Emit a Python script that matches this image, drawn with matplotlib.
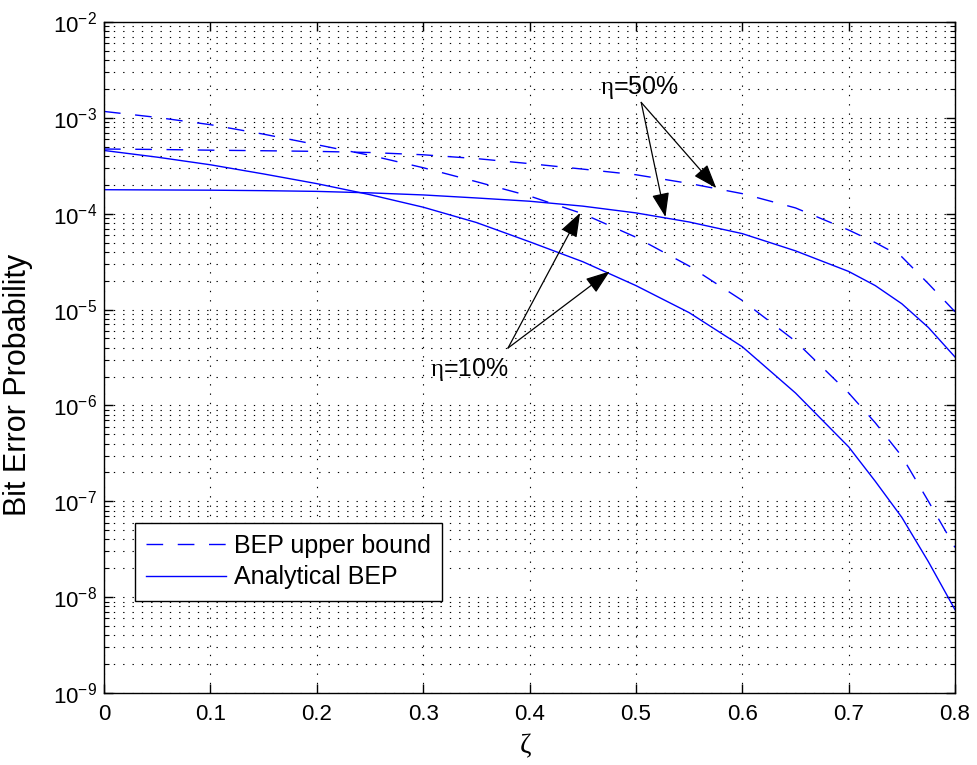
import numpy as np
import matplotlib
matplotlib.use('Agg')
import matplotlib.pyplot as plt
from matplotlib.ticker import LogLocator, MultipleLocator, NullFormatter, FuncFormatter

plt.rcParams['font.family'] = ['Liberation Sans', 'DejaVu Sans']
plt.rcParams['mathtext.fontset'] = 'custom'
plt.rcParams['mathtext.rm'] = 'Liberation Serif'

# values
zeta = [0, 0.05, 0.1, 0.15, 0.2, 0.25, 0.3, 0.35, 0.4, 0.45, 0.5,
        0.55, 0.6, 0.65, 0.7, 0.725, 0.75, 0.775, 0.8]

# BEP upper bound, eta = 10%
ub_10 = [1.167e-3, 1.01e-3, 8.49e-4, 6.76e-4, 5.25e-4, 4.07e-4, 3.02e-4, 2.16e-4,
         1.53e-4, 1.0e-4, 5.69e-5, 2.85e-5, 1.245e-5, 4.68e-6, 1.35e-6, 6.6e-7,
         2.95e-7, 1.0e-7, 3.3e-8]
# BEP upper bound, eta = 50%
ub_50 = [4.73e-4, 4.68e-4, 4.60e-4, 4.54e-4, 4.47e-4, 4.35e-4, 4.12e-4, 3.76e-4,
         3.33e-4, 2.92e-4, 2.55e-4, 2.07e-4, 1.62e-4, 1.15e-4, 6.76e-5, 5.0e-5,
         3.55e-5, 1.86e-5, 9.5e-6]
# Analytical BEP, eta = 10%
an_10 = [4.57e-4, 3.89e-4, 3.24e-4, 2.60e-4, 2.06e-4, 1.58e-4, 1.17e-4, 8.1e-5,
         5.1e-5, 3.16e-5, 1.78e-5, 9.3e-6, 4.1e-6, 1.35e-6, 3.7e-7, 1.62e-7,
         6.8e-8, 2.34e-8, 7.4e-9]
# Analytical BEP, eta = 50%
an_50 = [1.78e-4, 1.77e-4, 1.76e-4, 1.74e-4, 1.71e-4, 1.65e-4, 1.57e-4, 1.46e-4,
         1.35e-4, 1.20e-4, 1.02e-4, 8.2e-5, 6.2e-5, 4.1e-5, 2.5e-5, 1.78e-5,
         1.15e-5, 6.5e-6, 3.2e-6]

W, H = 978, 765
fig = plt.figure(figsize=(W / 100, H / 100), dpi=100)
ax = fig.add_axes([104 / W, 1 - 693 / H, 851 / W, 671 / H])

dash = (0, (12, 10.5))
ax.semilogy(zeta, ub_10, color='b', lw=1.0, linestyle=dash, label='BEP upper bound')
ax.semilogy(zeta, an_10, color='b', lw=1.0, label='Analytical BEP')
ax.semilogy(zeta, ub_50, color='b', lw=1.0, linestyle=dash)
ax.semilogy(zeta, an_50, color='b', lw=1.0)

ax.set_xlim(0, 0.8)
ax.set_ylim(1e-9, 1e-2)
ax.xaxis.set_major_locator(MultipleLocator(0.1))
ax.xaxis.set_major_formatter(FuncFormatter(lambda v, p: f'{v:g}'))
ax.yaxis.set_major_locator(LogLocator(base=10, numticks=20))
ax.yaxis.set_minor_locator(LogLocator(base=10, subs=np.arange(2, 10), numticks=20))
ax.yaxis.set_minor_formatter(NullFormatter())

dots = (0, (1.2, 7.2))
ax.grid(True, which='major', axis='both', color='k', lw=0.8, linestyle=dots)
ax.grid(True, which='minor', axis='y', color='k', lw=0.8, linestyle=dots)
ax.set_axisbelow(True)

ax.tick_params(which='both', direction='in', top=True, right=True, labelsize=16)
ax.tick_params(which='major', length=6.5, width=1.0)
ax.tick_params(which='minor', length=3.5, width=0.8)
ax.tick_params(axis='x', pad=8)
ax.tick_params(axis='y', pad=5)
for s in ax.spines.values():
    s.set_linewidth(1.0)

ax.set_ylabel('Bit Error Probability', fontsize=22)
ax.yaxis.set_label_coords(-0.083, 0.459)
ax.set_xlabel(r'$\mathrm{\zeta}$', fontsize=20)
ax.xaxis.set_label_coords(0.495, -0.058)

# annotations
arrow = dict(arrowstyle='-|>,head_length=0.75,head_width=0.27', color='k',
             lw=0.9, mutation_scale=20, shrinkA=0, shrinkB=0)
ax.text(0.503, 2.06e-3, r'$\mathrm{\eta}$=50%', fontsize=18, ha='center', va='center')
ax.annotate('', xy=(0.5756, 1.85e-4), xytext=(0.505, 1.45e-3), arrowprops=arrow)
ax.annotate('', xy=(0.5278, 9.25e-5), xytext=(0.505, 1.45e-3), arrowprops=arrow)

ax.text(0.343, 2.35e-6, r'$\mathrm{\eta}$=10%', fontsize=18, ha='center', va='center')
ax.annotate('', xy=(0.4476, 1.02e-4), xytext=(0.3798, 3.97e-6), arrowprops=arrow)
ax.annotate('', xy=(0.4754, 2.5e-5), xytext=(0.3798, 3.97e-6), arrowprops=arrow)

leg = ax.legend(loc='upper left', bbox_to_anchor=(135 / W, 1 - 522.7 / H),
                bbox_transform=fig.transFigure, fontsize=18, handlelength=3.2,
                handletextpad=0.3, borderpad=0.45, labelspacing=0.3,
                fancybox=False, framealpha=1, borderaxespad=0)
leg.get_frame().set_edgecolor('k')
leg.get_frame().set_linewidth(1.0)

fig.savefig('out.png', dpi=100)
